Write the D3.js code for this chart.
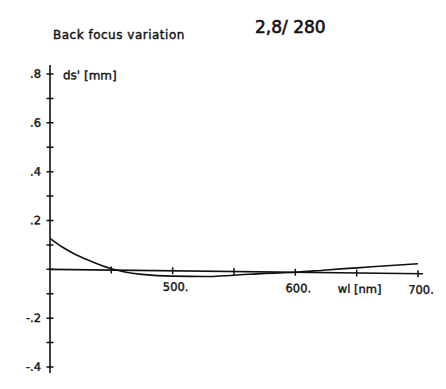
<!DOCTYPE html>
<html>

<head>
  <title>Back focus variation</title>
  <style>
    body { margin: 0; background: #fff; }
    text { font-family: "DejaVu Sans", sans-serif; fill: #111; stroke: #111; stroke-width: 0.4; }
  </style>
</head>

<body>
  <svg id="svg"></svg>

  <script src="https://d3js.org/d3.v7.min.js"></script>
  <script>
    let width = 446, height = 389;

    // wavelength (nm) and back focus shift ds' (mm)
    let wavelengths = [400, 410, 420, 430, 440, 450, 460, 475, 500, 525, 550, 575, 600, 625, 650, 675, 700];
    let shifts = [0.127, 0.092, 0.064, 0.042, 0.022, 0.005, -0.006, -0.016, -0.022, -0.022, -0.015, -0.006, 0.0, 0.011, 0.021, 0.031, 0.041];

    let xTicks = [450, 500, 550, 600, 650, 700];
    let xLabels = [{ v: 500, t: "500." }, { v: 600, t: "600." }, { v: 650, t: "wl [nm]" }, { v: 700, t: "700." }];
    let yMajor = [0.8, 0.6, 0.4, 0.2, -0.2, -0.4];
    let yMinor = [0.7, 0.5, 0.3, 0.1, 0, -0.1, -0.3];
    let yLabels = [".8", ".6", ".4", ".2", "-.2", "-.4"];

    let svg = d3.select("#svg")
      .attr("width", width)
      .attr("height", height);

    svg.append("text")
      .attr("x", 53).attr("y", 39)
      .attr("font-size", 12)
      .attr("letter-spacing", 0.5)
      .text("Back focus variation");

    svg.append("text")
      .attr("x", 255).attr("y", 33)
      .attr("font-family", "Liberation Sans")
      .attr("font-size", 17)
      .style("stroke-width", 0.6)
      .text("2,8/ 280");

    // the scan is slightly tilted, so the plot is skewed a little
    let plot = svg.append("g")
      .attr("transform", "translate(50,0) skewY(0.68)");

    let x = d3.scaleLinear().domain([400, 700]).range([0, 368]);
    let y = d3.scaleLinear().domain([-0.4, 0.8]).range([367, 74]);

    // axes
    plot.append("line")
      .attr("x1", 0).attr("x2", 0)
      .attr("y1", 65).attr("y2", 373)
      .attr("stroke", "#111").attr("stroke-width", 1.6);

    plot.append("line")
      .attr("x1", 0).attr("x2", x(704))
      .attr("y1", y(0)).attr("y2", y(0))
      .attr("stroke", "#111").attr("stroke-width", 1.6);

    plot.selectAll(".ytick")
      .data(yMajor.concat(yMinor))
      .join("line")
      .attr("class", "ytick")
      .attr("x1", -3.5).attr("x2", 3.5)
      .attr("y1", d => y(d)).attr("y2", d => y(d))
      .attr("stroke", "#111").attr("stroke-width", 1.5);

    plot.selectAll(".xtick")
      .data(xTicks)
      .join("line")
      .attr("class", "xtick")
      .attr("x1", d => x(d)).attr("x2", d => x(d))
      .attr("y1", y(0) - 3.5).attr("y2", y(0) + 3.5)
      .attr("stroke", "#111").attr("stroke-width", 1.5);

    plot.selectAll(".ylab")
      .data(yMajor)
      .join("text")
      .attr("class", "ylab")
      .attr("x", -9)
      .attr("y", d => y(d) + 4)
      .attr("text-anchor", "end")
      .attr("font-size", 11.5)
      .text((d, i) => yLabels[i]);

    plot.selectAll(".xlab")
      .data(xLabels)
      .join("text")
      .attr("class", "xlab")
      .attr("x", d => x(d.v) + 3)
      .attr("y", y(0) + 20)
      .attr("text-anchor", "middle")
      .attr("font-size", 11.5)
      .text(d => d.t);

    plot.append("text")
      .attr("x", 13).attr("y", 79)
      .attr("font-size", 12)
      .text("ds' [mm]");

    // curve
    let line = d3.line()
      .x((d, i) => x(wavelengths[i]))
      .y(d => y(d))
      .curve(d3.curveMonotoneX);

    plot.append("path")
      .datum(shifts)
      .attr("d", line)
      .attr("fill", "none")
      .attr("stroke", "#111")
      .attr("stroke-width", 1.6);
  </script>
</body>

</html>
